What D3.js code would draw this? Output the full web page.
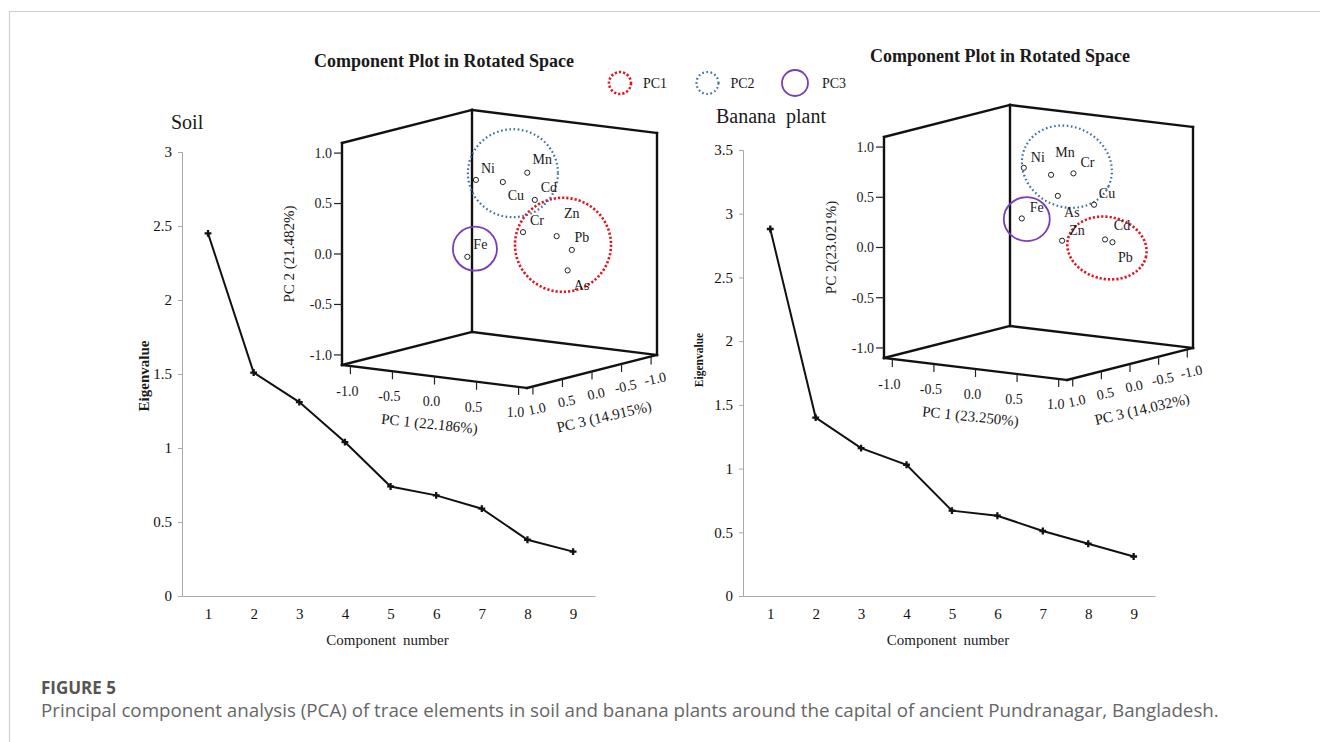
<!DOCTYPE html>
<html>
<head>
<meta charset="utf-8">
<script src="https://cdn.jsdelivr.net/npm/d3@7"></script>
<style>
  body { margin: 0; background: #fff; }
  svg { display: block; }
  text { font-family: "Liberation Serif", "Times New Roman", serif; fill: #1a1a1a; }
  .cap { font-family: "Open Sans", "Noto Sans", sans-serif; }
</style>
</head>
<body>
<svg id="fig" width="1320" height="742"></svg>
<script>
// scree plots
var components = [1, 2, 3, 4, 5, 6, 7, 8, 9];
var soilEigen = [2.45, 1.51, 1.31, 1.04, 0.74, 0.68, 0.59, 0.38, 0.30];
var bananaEigen = [2.88, 1.40, 1.16, 1.03, 0.67, 0.63, 0.51, 0.41, 0.31];
var soilEigenTicks = [0, 0.5, 1, 1.5, 2, 2.5, 3];
var bananaEigenTicks = [0, 0.5, 1, 1.5, 2, 2.5, 3, 3.5];

// rotated component loadings
var elements = ["Ni", "Cu", "Mn", "Cd", "Cr", "Zn", "Pb", "As", "Fe"];
var soilPC1 = [-0.14, 0.11, 0.33, 0.42, 0.42, 0.75, 0.86, 0.74, 0.18];
var soilPC2 = [0.70, 0.69, 0.79, 0.53, 0.24, 0.22, 0.08, -0.15, 0.06];
var soilPC3 = [0.20, 0.10, 0.00, 0.00, 0.20, 0.10, 0.00, -0.10, 0.80];
var bananaPC1 = [0.03, 0.53, 0.22, 0.80, 0.42, 0.49, 0.82, 0.37, 0.35];
var bananaPC2 = [0.79, 0.40, 0.71, 0.11, 0.73, 0.11, 0.07, 0.53, 0.39];
var bananaPC3 = [0.30, -0.20, 0.10, 0.00, 0.00, 0.30, -0.10, 0.20, 0.80];
var loadingTicks = [-1, -0.5, 0, 0.5, 1];

// component groups circled on the plots (centres in loading space)
var groups = ["PC1", "PC2", "PC3"];
var soilRingPC1 = [0.755, 0.23, 0.27];
var soilRingPC2 = [0.12, 0.79, 0.15];
var soilRingPC3 = [0.0, 0.1, 0.8];
var bananaRingPC1 = [0.754, 0.41, 0.41];
var bananaRingPC2 = [0.006, 0.81, 0.39];
var bananaRingPC3 = [-0.1, 0.1, 0.8];

var groupColor = {PC1: "#e3141d", PC2: "#3b6ea6", PC3: "#7a3db8"};
var groupDash = {PC1: "2.2,2", PC2: "1.6,2.6", PC3: null};
var groupWidth = {PC1: 2.6, PC2: 2.2, PC3: 1.8};

var svg = d3.select("#fig");

// outer frame
svg.append("path")
  .attr("d", "M9.5,742 V11.5 H1320")
  .attr("fill", "none").attr("stroke", "#d0d0d0").attr("stroke-width", 1.2);

//scree plot
var drawScree = function(cfg, values, ticks) {
  var g = svg.append("g");
  var x = d3.scaleLinear().domain(cfg.xDomain).range([cfg.left, cfg.right]);
  var y = d3.scaleLinear().domain([0, d3.max(ticks)]).range([cfg.bottom, cfg.top]);

  var ya = g.append("g").attr("transform", "translate(" + cfg.left + ",0)")
    .call(d3.axisLeft(y).tickValues(ticks).tickSize(4).tickPadding(6)
      .tickFormat(function(d) { return d; }));
  ya.attr("font-size", null).attr("font-family", null);
  ya.select(".domain").attr("stroke", "#a8a8a8");
  ya.selectAll(".tick line").attr("stroke", "#a8a8a8");
  ya.selectAll("text").style("font-size", "15px").style("fill", "#111");

  var xa = g.append("g").attr("transform", "translate(0," + cfg.bottom + ")")
    .call(d3.axisBottom(x).tickValues(components).tickSize(0).tickPadding(12)
      .tickFormat(d3.format("d")));
  xa.attr("font-size", null).attr("font-family", null);
  xa.select(".domain").attr("stroke", "#a8a8a8");
  xa.selectAll("text").style("font-size", "15px").style("fill", "#111");

  var line = d3.line()
    .x(function(d, i) { return x(components[i]); })
    .y(function(d) { return y(d); });
  g.append("path").datum(values)
    .attr("d", line).attr("fill", "none")
    .attr("stroke", "#111").attr("stroke-width", 2);

  g.selectAll(".mk").data(values).enter().append("path")
    .attr("class", "mk")
    .attr("d", d3.symbol().type(d3.symbolCross).size(26))
    .attr("transform", function(d, i) { return "translate(" + x(components[i]) + "," + y(d) + ")"; })
    .attr("fill", "#111");

  g.append("text").attr("x", cfg.nameX).attr("y", cfg.nameY)
    .attr("font-size", 20).attr("word-spacing", cfg.nameSpacing)
    .text(cfg.name);

  g.append("text")
    .attr("transform", "translate(" + cfg.yTitleX + "," + cfg.yTitleY + ") rotate(-90)")
    .attr("text-anchor", "middle").attr("dy", "0.35em")
    .attr("font-weight", "bold").attr("font-size", cfg.yTitleSize)
    .text("Eigenvalue");

  g.append("text").attr("x", (cfg.left + cfg.right) / 2 - 1).attr("y", cfg.bottom + 49)
    .attr("text-anchor", "middle").attr("font-size", 15).attr("word-spacing", 3)
    .text("Component number");
};

// 3D component plot
var drawLoadings = function(cfg, pc1, pc2, pc3, r1, r2, r3) {
  var g = svg.append("g");
  var M = 1.1;
  var L = cfg.L, F = cfg.F, R = cfg.R;
  var s1 = d3.scaleLinear().domain([-M, M]).range([L, F]);
  var s3 = d3.scaleLinear().domain([M, -M]).range([[0, 0], [R[0] - F[0], R[1] - F[1]]]);
  var s2 = d3.scaleLinear().domain([-M, M]).range([0, -cfg.H]);
  var P = function(a, b, c) {
    var p = s1(a), q = s3(c);
    return [p[0] + q[0], p[1] + q[1] + s2(b)];
  };

  // box edges
  var edges = [
    [[-M, M, M], [-M, M, -M]], [[-M, M, -M], [M, M, -M]],
    [[-M, M, -M], [-M, -M, -M]], [[-M, M, M], [-M, -M, M]],
    [[M, M, -M], [M, -M, -M]], [[-M, -M, M], [-M, -M, -M]],
    [[-M, -M, -M], [M, -M, -M]], [[-M, -M, M], [M, -M, M]],
    [[M, -M, M], [M, -M, -M]]
  ];
  g.selectAll(".edge").data(edges).enter().append("line")
    .attr("x1", function(e) { return P.apply(null, e[0])[0]; })
    .attr("y1", function(e) { return P.apply(null, e[0])[1]; })
    .attr("x2", function(e) { return P.apply(null, e[1])[0]; })
    .attr("y2", function(e) { return P.apply(null, e[1])[1]; })
    .attr("stroke", "#111").attr("stroke-width", 2.4).attr("stroke-linecap", "square");

  // SPSS prints a plain hyphen
  var fmt = function(v) { return d3.format(".1f")(v).replace("\u2212", "-"); };
  // PC2 axis (left vertical)
  loadingTicks.forEach(function(v) {
    var p = P(-M, v, M);
    g.append("line").attr("x1", p[0] - 8).attr("x2", p[0]).attr("y1", p[1]).attr("y2", p[1])
      .attr("stroke", "#222").attr("stroke-width", 1.2);
    g.append("text").attr("x", p[0] - 10).attr("y", p[1]).attr("dy", "0.35em")
      .attr("text-anchor", "end").attr("font-size", 14).text(fmt(v));
  });
  // PC1 axis (front left floor edge)
  loadingTicks.forEach(function(v) {
    var p = P(v, -M, M);
    g.append("line").attr("x1", p[0]).attr("x2", p[0]).attr("y1", p[1]).attr("y2", p[1] + 8)
      .attr("stroke", "#222").attr("stroke-width", 1.2);
    g.append("text").attr("x", p[0] - 3).attr("y", p[1] + 25).attr("dy", "0.35em")
      .attr("text-anchor", "middle").attr("font-size", 14).text(fmt(v));
  });
  // PC3 axis (front right floor edge)
  loadingTicks.forEach(function(v) {
    var p = P(M, -M, v);
    g.append("line").attr("x1", p[0]).attr("x2", p[0]).attr("y1", p[1]).attr("y2", p[1] + 8)
      .attr("stroke", "#222").attr("stroke-width", 1.2);
    g.append("text")
      .attr("transform", "translate(" + (p[0] + 4) + "," + (p[1] + 22) + ") rotate(-12)")
      .attr("dy", "0.35em").attr("text-anchor", "middle").attr("font-size", 14).text(fmt(v));
  });

  var m1 = P(0, -M, M), m3 = P(M, -M, 0), m2 = P(-M, 0, M);
  g.append("text")
    .attr("transform", "translate(" + (m1[0] - 5) + "," + (m1[1] + 47) + ") rotate(6)")
    .attr("text-anchor", "middle").attr("dy", "0.35em").attr("font-size", 15).text(cfg.t1);
  g.append("text")
    .attr("transform", "translate(" + (m3[0] + 12) + "," + (m3[1] + 45) + ") rotate(-13)")
    .attr("text-anchor", "middle").attr("dy", "0.35em").attr("font-size", 15).text(cfg.t3);
  g.append("text")
    .attr("transform", "translate(" + (m2[0] - 53) + "," + m2[1] + ") rotate(-90)")
    .attr("text-anchor", "middle").attr("dy", "0.35em").attr("font-size", 15).text(cfg.t2);

  g.append("text").attr("x", cfg.titleX).attr("y", cfg.titleY)
    .attr("text-anchor", "middle").attr("dy", "0.35em")
    .attr("font-weight", "bold").attr("font-size", 18)
    .text("Component Plot in Rotated Space");

  // group rings
  groups.forEach(function(k, i) {
    var c = P(r1[i], r2[i], r3[i]);
    var sz = cfg.ring[k];
    g.append("ellipse")
      .attr("transform", "translate(" + c[0] + "," + c[1] + ") rotate(" + sz[2] + ")")
      .attr("rx", sz[0]).attr("ry", sz[1])
      .attr("fill", "none").attr("stroke", groupColor[k])
      .attr("stroke-width", groupWidth[k])
      .attr("stroke-dasharray", groupDash[k]);
  });

  // points
  elements.forEach(function(el, i) {
    var p = P(pc1[i], pc2[i], pc3[i]);
    var off = cfg.lab[el] || [13, -12];
    g.append("circle").attr("cx", p[0]).attr("cy", p[1]).attr("r", 2.6)
      .attr("fill", "#fff").attr("stroke", "#222").attr("stroke-width", 1);
    g.append("text").attr("x", p[0] + off[0]).attr("y", p[1] + off[1]).attr("dy", "0.35em")
      .attr("text-anchor", "middle").attr("font-size", 14).text(el);
  });
};

drawScree({left: 182, right: 595, top: 152, bottom: 596, xDomain: [0.43, 9.48],
  name: "Soil", nameX: 171, nameY: 129, nameSpacing: 0,
  yTitleX: 144, yTitleY: 376, yTitleSize: 15}, soilEigen, soilEigenTicks);
drawScree({left: 743, right: 1155, top: 150, bottom: 596, xDomain: [0.4, 9.47],
  name: "Banana plant", nameX: 716, nameY: 123, nameSpacing: 5,
  yTitleX: 699, yTitleY: 360, yTitleSize: 11.5}, bananaEigen, bananaEigenTicks);

drawLoadings({L: [342, 365], F: [527, 388], R: [657, 355], H: 222,
  titleX: 444, titleY: 61,
  t1: "PC 1 (22.186%)", t2: "PC 2 (21.482%)", t3: "PC 3 (14.915%)",
  ring: {PC1: [48, 47, 0], PC2: [45, 44, 0], PC3: [22, 22, 0]},
  lab: {Ni: [12, -12], Cu: [13, 13], Mn: [15, -14], Cd: [14, -13], Cr: [14, -12],
        Zn: [15, -23], Pb: [10, -13], As: [14, 15], Fe: [13, -13]}},
  soilPC1, soilPC2, soilPC3, soilRingPC1, soilRingPC2, soilRingPC3);
drawLoadings({L: [884, 358], F: [1067, 380], R: [1193, 348], H: 221,
  titleX: 1000, titleY: 56,
  t1: "PC 1 (23.250%)", t2: "PC 2(23.021%)", t3: "PC 3 (14.032%)",
  ring: {PC1: [40, 31, 12], PC2: [46, 40, 25], PC3: [23, 22, 0]},
  lab: {Ni: [14, -11], Cu: [13, -12], Mn: [14, -23], Cd: [17, -14], Cr: [14, -11],
        Zn: [15, -11], Pb: [13, 15], As: [14, 16], Fe: [15, -11]}},
  bananaPC1, bananaPC2, bananaPC3, bananaRingPC1, bananaRingPC2, bananaRingPC3);

// legend
var leg = svg.append("g");
groups.forEach(function(k, i) {
  var cx = 620 + i * 87.5;
  leg.append("circle").attr("cx", cx).attr("cy", 83).attr("r", k === "PC3" ? 13 : 11)
    .attr("fill", "none").attr("stroke", groupColor[k])
    .attr("stroke-width", groupWidth[k]).attr("stroke-dasharray", groupDash[k]);
  leg.append("text").attr("x", cx + (k === "PC3" ? 27 : 23)).attr("y", 83).attr("dy", "0.35em")
    .attr("font-size", 14).text(k);
});

// caption
svg.append("text").attr("class", "cap").attr("x", 41).attr("y", 694)
  .attr("font-size", 17).attr("font-weight", "bold").style("fill", "#555")
  .text("FIGURE 5");
var cap = svg.append("text").attr("class", "cap").attr("x", 41).attr("y", 717)
  .attr("font-size", 16).style("fill", "#666")
  .text("Principal component analysis (PCA) of trace elements in soil and banana plants around the capital of ancient Pundranagar, Bangladesh.");
var w = cap.node().getComputedTextLength();
cap.attr("font-size", 16 * 1178 / w);
</script>
</body>
</html>
